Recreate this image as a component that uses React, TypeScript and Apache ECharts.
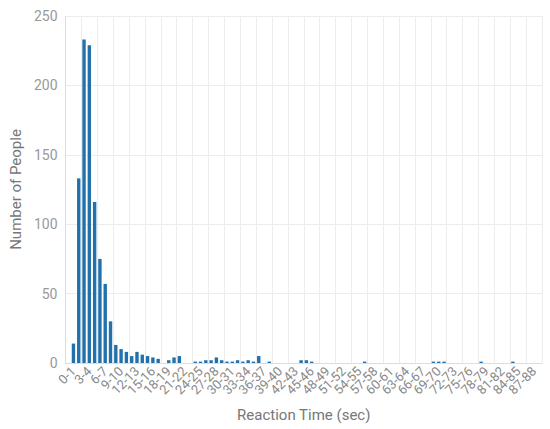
import React, { useEffect, useRef } from "react";
import * as echarts from "echarts";

const categories: string[] = [
  "0-1","1-2","2-3","3-4","4-5","5-6","6-7","7-8","8-9","9-10",
  "10-11","11-12","12-13","13-14","14-15","15-16","16-17","17-18","18-19","19-20",
  "20-21","21-22","22-23","23-24","24-25","25-26","26-27","27-28","28-29","29-30",
  "30-31","31-32","32-33","33-34","34-35","35-36","36-37","37-38","38-39","39-40",
  "40-41","41-42","42-43","43-44","44-45","45-46","46-47","47-48","48-49","49-50",
  "50-51","51-52","52-53","53-54","54-55","55-56","56-57","57-58","58-59","59-60",
  "60-61","61-62","62-63","63-64","64-65","65-66","66-67","67-68","68-69","69-70",
  "70-71","71-72","72-73","73-74","74-75","75-76","76-77","77-78","78-79","79-80",
  "80-81","81-82","82-83","83-84","84-85","85-86","86-87","87-88",
];

const counts: number[] = [
  14, 133, 233, 229, 116, 75, 57, 30, 13, 10,
  8, 5, 8, 6, 5, 4, 3, 0, 2, 4,
  5, 0, 0, 1, 1, 2, 2, 4, 2, 1,
  1, 2, 1, 2, 1, 5, 0, 1, 0, 0,
  0, 0, 0, 2, 2, 1, 0, 0, 0, 0,
  0, 0, 0, 0, 0, 1, 0, 0, 0, 0,
  0, 0, 0, 0, 0, 0, 0, 0, 1, 1,
  1, 0, 0, 0, 0, 0, 0, 1, 0, 0,
  0, 0, 0, 1, 0, 0, 0, 0,
];

const yTicks = { min: 0, max: 250, interval: 50 };

export default function App() {
  const ref = useRef<HTMLDivElement>(null);
  useEffect(() => {
    if (!ref.current) return;
    const chart = echarts.init(ref.current, undefined, { renderer: "svg" });
    // one empty padding slot at each end of the band axis
    const cats = ["", ...categories, ""];
    const data = ["-", ...counts.map((v) => (v === 0 ? "-" : v)), "-"];
    const font = "Roboto, 'Open Sans', sans-serif";
    chart.setOption({
      animation: false,
      grid: { left: 62, right: 8, top: 16, bottom: 66, containLabel: false },
      xAxis: {
        type: "category",
        data: cats,
        boundaryGap: true,
        name: "Reaction Time (sec)",
        nameLocation: "middle",
        nameGap: 44,
        nameTextStyle: { color: "#777", fontSize: 15, fontFamily: font },
        axisLine: { show: true, lineStyle: { color: "#ddd" } },
        axisTick: { show: false },
        axisLabel: {
          interval: 0,
          formatter: (value: string, index: number) => (index % 3 === 1 ? value : ""),
          rotate: 45,
          color: "#888",
          fontSize: 13,
          fontFamily: font,
          margin: 6,
        },
        splitLine: {
          show: true,
          interval: (i: number) => i % 3 === 0,
          lineStyle: { color: "#ececec" },
        },
      },
      yAxis: {
        type: "value",
        min: yTicks.min,
        max: yTicks.max,
        interval: yTicks.interval,
        name: "Number of People",
        nameLocation: "middle",
        nameGap: 42,
        nameTextStyle: { color: "#777", fontSize: 15, fontFamily: font },
        axisLine: { show: true, lineStyle: { color: "#ddd" } },
        axisTick: { show: false },
        axisLabel: { color: "#999", fontSize: 14, fontFamily: font, margin: 8 },
        splitLine: { show: true, lineStyle: { color: "#ececec" } },
      },
      series: [
        {
          type: "bar",
          data,
          barCategoryGap: "36%",
          itemStyle: { color: "#2271ab" },
        },
      ],
    });
    return () => chart.dispose();
  }, []);
  return (
    <div
      ref={ref}
      style={{ position: "absolute", left: 0, top: 0, width: 550, height: 429 }}
    />
  );
}
